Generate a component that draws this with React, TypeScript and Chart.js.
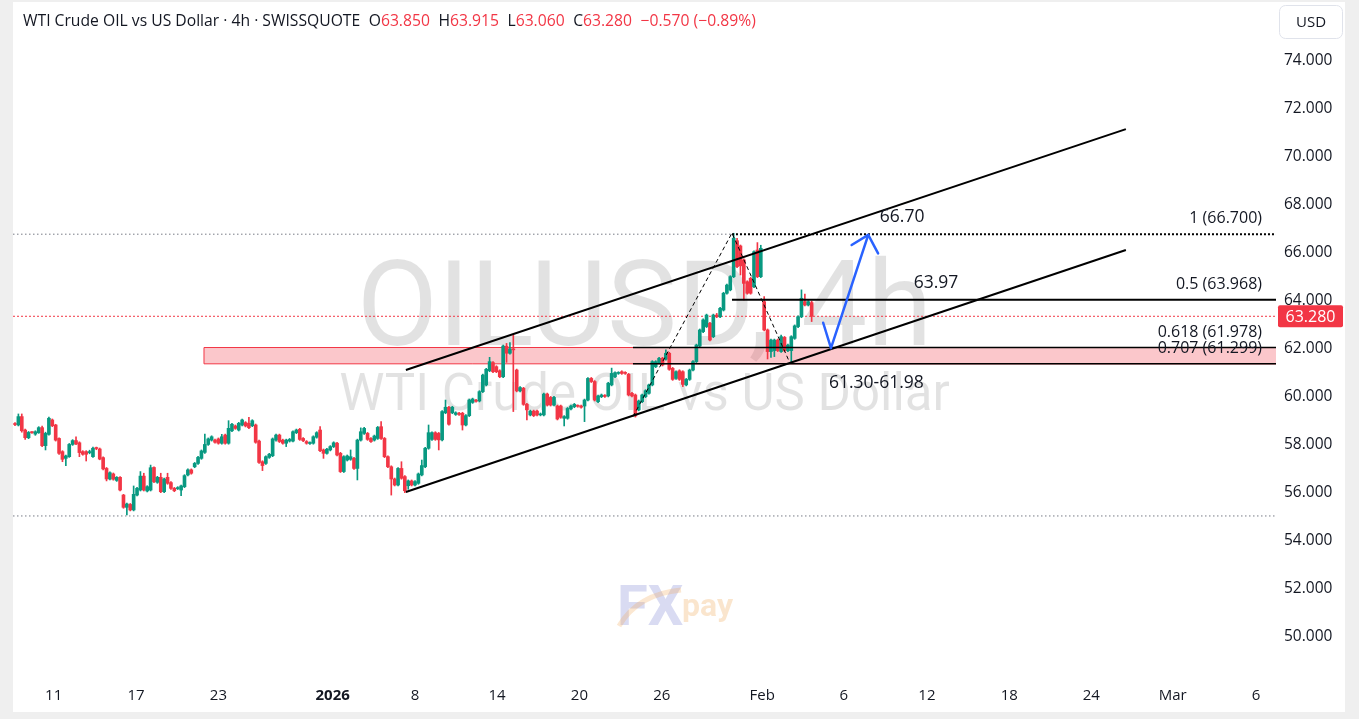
import React, { useEffect, useRef } from 'react';
import { Chart, registerables } from 'chart.js';

Chart.register(...registerables);

// ---------- data (4h candles, bar index on x) ----------
const OPEN = [
  58.79, 58.75, 59.10, 58.54, 58.22, 58.44, 58.37, 58.43, 58.64, 57.89,
  58.36, 58.96, 58.75, 58.19, 57.64, 57.36, 57.43, 57.94, 58.10, 58.01,
  57.64, 57.64, 57.60, 57.43, 57.78, 57.75, 57.39, 56.94, 56.50, 56.71,
  56.44, 56.57, 55.83, 55.32, 55.44, 55.21, 55.83, 56.04, 56.62, 56.00,
  56.04, 56.98, 56.36, 56.57, 55.97, 56.57, 56.35, 56.11, 56.10, 56.04,
  56.18, 56.67, 56.88, 57.01, 57.15, 57.36, 57.61, 57.94, 58.12, 58.12,
  58.17, 57.99, 58.33, 57.99, 58.51, 58.71, 58.54, 58.75, 58.85, 58.82,
  58.72, 58.75, 58.08, 57.22, 57.15, 57.40, 57.47, 58.12, 58.33, 58.12,
  57.99, 58.08, 58.08, 58.43, 58.57, 58.19, 58.06, 57.98, 57.99, 58.24,
  58.54, 57.71, 57.57, 57.71, 57.85, 57.99, 57.57, 56.81, 57.29, 57.32,
  57.36, 56.94, 58.12, 58.40, 58.40, 58.19, 58.12, 58.19, 58.68, 58.19,
  57.43, 57.01, 56.50, 56.25, 56.94, 56.60, 56.22, 56.42, 56.25, 56.32,
  56.67, 57.01, 57.78, 58.15, 58.43, 58.40, 58.13, 59.26, 59.49, 59.26,
  59.19, 59.24, 59.24, 58.75, 59.14, 59.69, 59.78, 59.75, 60.14, 60.42,
  61.01, 61.35, 61.18, 61.01, 60.76, 62.04, 61.74, 61.92, 61.04, 60.17,
  60.28, 59.61, 59.17, 59.33, 59.33, 59.17, 59.17, 60.04, 59.90, 59.58,
  59.54, 59.54, 59.03, 59.03, 59.42, 59.51, 59.55, 59.54, 59.54, 59.79,
  60.69, 60.56, 59.72, 59.93, 59.98, 59.96, 60.42, 60.76, 60.90, 60.97,
  60.93, 60.86, 60.07, 60.00, 59.38, 59.72, 59.93, 60.07, 60.42, 61.18,
  61.35, 61.53, 61.49, 61.74, 61.11, 60.69, 61.01, 60.97, 60.42, 60.65,
  61.04, 61.39, 62.04, 62.64, 62.85, 62.99, 62.43, 63.33, 63.26, 63.54,
  64.24, 64.38, 64.93, 66.43, 66.21, 65.63, 64.72, 64.86, 64.51, 66.04,
  64.93, 63.89, 62.71, 61.81, 61.85, 62.29, 61.81, 62.40, 61.85, 61.85,
  62.36, 62.85, 63.26, 63.89, 63.75, 63.85,
];
const HIGH = [
  58.85, 59.21, 59.21, 58.58, 58.48, 58.48, 58.51, 58.68, 58.70, 58.45,
  59.08, 59.00, 58.78, 58.22, 57.68, 57.50, 57.98, 58.14, 58.26, 58.05,
  57.68, 57.68, 57.70, 57.83, 57.83, 57.79, 57.42, 56.98, 56.80, 56.75,
  56.60, 56.60, 55.86, 55.50, 55.48, 56.21, 56.15, 56.81, 56.74, 56.22,
  57.08, 57.01, 56.61, 56.74, 56.54, 56.74, 56.39, 56.15, 56.18, 56.25,
  56.68, 56.92, 56.92, 57.19, 57.44, 57.71, 58.37, 58.21, 58.30, 58.16,
  58.21, 58.36, 58.37, 58.93, 58.82, 58.75, 58.86, 59.00, 58.89, 59.07,
  58.97, 58.79, 58.12, 57.26, 57.47, 57.57, 58.21, 58.37, 58.37, 58.16,
  58.16, 58.19, 58.51, 58.58, 58.61, 58.23, 58.10, 58.05, 58.30, 58.47,
  58.68, 57.75, 57.78, 57.89, 58.05, 58.03, 57.61, 57.47, 57.50, 57.71,
  57.40, 58.16, 58.63, 58.65, 58.44, 58.23, 58.33, 58.69, 58.89, 58.23,
  57.47, 57.05, 56.54, 56.98, 57.22, 56.64, 56.46, 56.46, 56.43, 56.75,
  57.29, 57.82, 58.75, 58.47, 58.47, 58.44, 59.35, 59.79, 59.53, 59.53,
  59.30, 59.28, 59.28, 59.18, 59.83, 59.87, 59.82, 60.18, 60.87, 61.11,
  61.57, 61.39, 61.22, 61.05, 62.08, 62.15, 62.18, 62.50, 61.08, 60.35,
  60.32, 59.65, 59.37, 59.37, 59.37, 59.25, 60.08, 60.08, 59.94, 59.94,
  59.58, 59.58, 59.14, 59.48, 59.58, 59.65, 59.59, 59.58, 59.83, 60.73,
  60.73, 60.60, 60.00, 60.04, 60.02, 60.53, 61.12, 60.97, 60.97, 61.01,
  60.97, 60.90, 60.11, 60.04, 59.79, 60.04, 60.22, 60.46, 61.43, 61.43,
  61.57, 61.57, 61.88, 61.78, 61.15, 61.01, 61.05, 61.01, 60.69, 61.08,
  61.43, 62.12, 62.75, 63.17, 63.37, 63.03, 63.37, 63.40, 63.65, 64.28,
  64.62, 64.97, 66.74, 66.53, 66.25, 65.67, 64.76, 64.90, 66.01, 66.35,
  66.24, 64.10, 62.75, 62.33, 62.33, 62.33, 62.50, 62.44, 62.12, 62.47,
  62.92, 63.30, 64.38, 64.20, 63.93, 63.915,
];
const LOW = [
  58.72, 58.71, 58.45, 58.15, 58.18, 58.40, 58.32, 58.40, 57.85, 57.71,
  58.33, 58.68, 58.08, 57.52, 57.22, 57.06, 57.40, 57.90, 57.93, 57.43,
  57.49, 57.25, 57.55, 57.40, 57.72, 57.30, 56.88, 56.42, 56.46, 56.45,
  56.40, 56.00, 55.28, 55.00, 55.17, 55.17, 55.79, 56.00, 56.00, 55.96,
  56.00, 56.35, 56.32, 55.93, 55.93, 56.28, 56.07, 55.97, 56.06, 55.81,
  56.14, 56.63, 56.70, 56.97, 57.11, 57.32, 57.57, 57.90, 58.08, 57.99,
  57.95, 57.95, 57.95, 57.95, 58.47, 58.57, 58.50, 58.71, 58.67, 58.60,
  58.68, 57.99, 57.15, 56.85, 57.11, 57.36, 57.43, 58.08, 58.02, 57.95,
  57.85, 58.04, 58.04, 58.39, 58.11, 58.06, 57.95, 57.94, 57.95, 58.20,
  57.64, 57.36, 57.53, 57.67, 57.81, 57.46, 56.77, 56.77, 57.25, 57.28,
  56.90, 56.46, 58.08, 58.36, 58.11, 58.02, 58.08, 58.15, 58.15, 57.39,
  56.97, 55.83, 56.21, 56.21, 56.49, 55.93, 56.07, 56.21, 56.21, 56.28,
  56.63, 56.97, 57.74, 58.11, 58.11, 57.71, 58.09, 59.22, 58.74, 59.22,
  59.15, 59.15, 58.54, 58.71, 59.10, 59.65, 59.70, 59.71, 60.10, 60.38,
  60.97, 60.93, 60.93, 60.72, 60.72, 61.36, 61.70, 59.31, 60.13, 60.13,
  59.57, 58.96, 59.13, 59.10, 59.13, 59.13, 59.13, 59.54, 59.54, 59.54,
  58.96, 59.03, 58.71, 58.99, 59.38, 59.47, 59.49, 59.45, 58.89, 59.75,
  60.52, 59.75, 59.68, 59.89, 59.90, 59.92, 60.38, 60.72, 60.86, 60.86,
  60.86, 59.96, 59.92, 59.08, 59.34, 59.68, 59.89, 60.03, 60.38, 61.14,
  61.31, 61.21, 61.45, 61.03, 60.61, 60.65, 60.61, 60.35, 60.38, 60.61,
  61.00, 61.35, 62.00, 62.60, 62.81, 62.25, 62.39, 63.22, 63.22, 63.50,
  64.20, 64.34, 64.89, 65.31, 65.00, 63.96, 64.20, 64.20, 64.47, 64.89,
  64.89, 62.67, 61.50, 61.57, 61.60, 61.81, 61.77, 61.81, 61.81, 61.32,
  62.32, 62.81, 63.22, 63.71, 63.71, 63.06,
];
const CLOSE = [
  58.77, 59.10, 58.51, 58.22, 58.44, 58.43, 58.47, 58.64, 57.89, 58.40,
  59.03, 58.72, 58.12, 57.57, 57.32, 57.46, 57.94, 58.10, 57.96, 57.60,
  57.53, 57.53, 57.63, 57.78, 57.77, 57.33, 56.92, 56.50, 56.76, 56.49,
  56.57, 56.04, 55.32, 55.46, 55.21, 55.86, 56.11, 56.62, 56.04, 56.18,
  56.97, 56.39, 56.57, 55.97, 56.50, 56.32, 56.11, 56.01, 56.14, 56.21,
  56.64, 56.88, 56.74, 57.15, 57.40, 57.67, 57.94, 58.17, 58.26, 58.03,
  57.99, 58.26, 57.99, 58.61, 58.78, 58.61, 58.82, 58.96, 58.71, 58.64,
  58.93, 58.03, 57.19, 57.06, 57.43, 57.53, 58.17, 58.33, 58.06, 57.99,
  58.12, 58.15, 58.47, 58.54, 58.15, 58.10, 57.99, 58.01, 58.26, 58.43,
  57.68, 57.57, 57.74, 57.85, 58.01, 57.50, 56.81, 57.43, 57.46, 57.43,
  56.94, 58.12, 58.47, 58.61, 58.15, 58.06, 58.29, 58.65, 58.19, 57.43,
  57.01, 56.50, 56.25, 56.94, 56.53, 56.01, 56.42, 56.25, 56.39, 56.71,
  57.06, 57.78, 58.43, 58.43, 58.15, 58.13, 59.31, 59.49, 58.78, 59.49,
  59.26, 59.19, 58.75, 59.14, 59.79, 59.83, 59.74, 60.14, 60.83, 61.07,
  61.39, 60.97, 60.97, 60.76, 62.04, 61.74, 61.92, 61.88, 60.17, 60.31,
  59.61, 59.38, 59.33, 59.14, 59.17, 59.21, 60.04, 59.58, 59.58, 59.90,
  59.00, 59.07, 59.10, 59.44, 59.54, 59.61, 59.53, 59.49, 59.79, 60.69,
  60.56, 59.79, 59.96, 60.00, 59.94, 60.49, 60.90, 60.93, 60.93, 60.90,
  60.90, 60.00, 59.96, 59.13, 59.75, 60.00, 60.18, 60.42, 61.39, 61.39,
  61.53, 61.25, 61.74, 61.07, 60.65, 60.97, 60.65, 60.44, 60.65, 61.04,
  61.39, 62.08, 62.71, 63.13, 63.33, 62.29, 63.33, 63.26, 63.61, 64.24,
  64.58, 64.93, 66.53, 65.35, 65.38, 64.65, 64.24, 64.24, 65.97, 64.93,
  66.11, 62.71, 61.81, 62.29, 62.29, 61.85, 62.43, 61.85, 62.08, 62.43,
  62.88, 63.26, 64.03, 63.75, 63.89, 63.28,
];

// time axis (bar index positions of the date labels)
const TIME_TICK_POS = [11.4, 35.7, 60.0, 93.7, 118.0, 142.2, 166.5, 190.8, 220.4, 244.5, 269.0, 293.3, 317.5, 341.5, 366.1];
const TIME_TICK_LABELS = ['11', '17', '23', '2026', '8', '14', '20', '26', 'Feb', '6', '12', '18', '24', 'Mar', '6'];
const PRICE_TICKS = [50, 52, 54, 56, 58, 60, 62, 64, 66, 68, 70, 72, 74];

const X_MIN = -0.59;
const X_MAX = 371.98;
const Y_MIN = 47.958;
const Y_MAX = 76.375;

const LAST_PRICE = 63.28;
const RANGE_LOW_PRICE = 54.96;

// fibonacci retracement
const FIB_LEVELS = [66.7, 63.968, 61.978, 61.299];
const FIB_LABELS = ['1 (66.700)', '0.5 (63.968)', '0.618 (61.978)', '0.707 (61.299)'];
const FIB_START = [211.5, 211.5, 182.3, 182.3];
const FIB_PATH_X = [182.3, 211.5, 228.6];
const FIB_PATH_Y = [59.1, 66.75, 61.33];

// support zone 61.30-61.98
const ZONE_X = [55.75, 374];
const ZONE_Y = [61.299, 61.978];

// rising channel
const CHANNEL_X = [115.3, 327.7];
const CHANNEL_UPPER = [61.04, 71.08];
const CHANNEL_LOWER = [55.96, 66.04];

// projected path (blue arrow)
const ARROW_X = [238.4, 240.7, 251.7];
const ARROW_Y = [63.01, 61.95, 66.67];
const ARROW_HEAD_X = [246.8, 251.7, 254.6];
const ARROW_HEAD_Y = [66.25, 66.67, 65.9];

// text notes
const NOTE_TEXT = ['66.70', '63.97', '61.30-61.98'];
const NOTE_X = [261.7, 271.7, 254.1];
const NOTE_Y = [67.21, 64.45, 60.28];

// ---------- styles ----------
const UP = '#089981';
const DOWN = '#f23645';
const INK = '#131722';
const FONT = '"Open Sans", sans-serif';
const WM_FONT = 'Roboto, sans-serif';

const pts = (xs: number[], ys: number[]) => xs.map((x, i) => ({ x, y: ys[i] }));

const lineDs = (label: string, data: any[], extra: any = {}) => ({
  type: 'line',
  label,
  data,
  pointRadius: 0,
  pointHoverRadius: 0,
  fill: false,
  tension: 0,
  borderWidth: 1,
  borderColor: '#000',
  ...extra,
});

const overlayPlugin = {
  id: 'overlay',
  beforeDatasetsDraw(chart: any) {
    const { ctx, chartArea: a } = chart;
    ctx.save();
    const cx = (a.left + a.right) / 2;
    ctx.textAlign = 'center';
    ctx.textBaseline = 'alphabetic';
    ctx.fillStyle = 'rgba(0,0,0,0.115)';
    ctx.font = `118px ${WM_FONT}`;
    ctx.fillText('OILUSD, 4h', cx, 343);
    ctx.font = `51px ${WM_FONT}`;
    ctx.fillText('WTI Crude OIL vs US Dollar', cx, 408);

    // FXpay logo
    ctx.textAlign = 'left';
    ctx.font = `bold 56px ${WM_FONT}`;
    ctx.fillStyle = 'rgba(150,155,220,0.36)';
    ctx.fillText('FX', 604, 623);
    ctx.strokeStyle = 'rgba(240,170,90,0.28)';
    ctx.lineWidth = 5;
    ctx.beginPath();
    ctx.moveTo(606, 624);
    ctx.quadraticCurveTo(625, 592, 668, 588);
    ctx.stroke();
    ctx.font = `bold 32px ${WM_FONT}`;
    ctx.fillStyle = 'rgba(240,170,90,0.3)';
    ctx.fillText('pay', 669, 614);
    ctx.restore();
  },
  afterDatasetsDraw(chart: any) {
    const { ctx, chartArea: a, scales } = chart;
    const xs = scales.x;
    const ys = scales.y;
    ctx.save();
    ctx.fillStyle = INK;
    ctx.textBaseline = 'alphabetic';
    // fib labels
    ctx.font = `16px ${FONT}`;
    ctx.textAlign = 'right';
    FIB_LEVELS.forEach((lv, i) => {
      ctx.fillText(FIB_LABELS[i], a.right - 14, ys.getPixelForValue(lv) - 11);
    });
    // notes
    ctx.font = `17.5px ${FONT}`;
    ctx.textAlign = 'center';
    NOTE_TEXT.forEach((t, i) => {
      ctx.fillText(t, xs.getPixelForValue(NOTE_X[i]), ys.getPixelForValue(NOTE_Y[i]));
    });
    ctx.restore();
  },
  afterDraw(chart: any) {
    const { ctx, chartArea: a, scales } = chart;
    const ys = scales.y;
    ctx.save();
    // last price label
    const py = ys.getPixelForValue(LAST_PRICE);
    ctx.fillStyle = DOWN;
    ctx.beginPath();
    ctx.roundRect(a.right + 2, py - 11, 65, 22, 2);
    ctx.fill();
    ctx.fillStyle = '#ffffff';
    ctx.font = `16px ${FONT}`;
    ctx.textAlign = 'center';
    ctx.textBaseline = 'middle';
    ctx.fillText(LAST_PRICE.toFixed(3), a.right + 34.5, py + 1);
    // currency button
    ctx.fillStyle = '#ffffff';
    ctx.strokeStyle = '#e0e3eb';
    ctx.lineWidth = 1;
    ctx.beginPath();
    ctx.roundRect(a.right + 3.5, 3.5, 63, 33, 6);
    ctx.fill();
    ctx.stroke();
    ctx.fillStyle = INK;
    ctx.font = `15px ${FONT}`;
    ctx.fillText('USD', a.right + 35, 20.5);
    ctx.restore();
  },
};

export default function App() {
  const ref = useRef<HTMLCanvasElement>(null);

  useEffect(() => {
    const colors = CLOSE.map((c, i) => (c >= OPEN[i] ? UP : DOWN));
    const bodies = OPEN.map((o, i) => ({ x: i, y: [Math.min(o, CLOSE[i]), Math.max(o, CLOSE[i])] }));
    const wicks = OPEN.map((_, i) => ({ x: i, y: [LOW[i], HIGH[i]] }));

    const datasets: any[] = [
      // arrow
      lineDs('arrow', pts(ARROW_X, ARROW_Y), { borderColor: '#2962ff', borderWidth: 2.5, borderJoinStyle: 'round', borderCapStyle: 'round', order: 1 }),
      lineDs('arrowHead', pts(ARROW_HEAD_X, ARROW_HEAD_Y), { borderColor: '#2962ff', borderWidth: 2.5, borderJoinStyle: 'round', borderCapStyle: 'round', order: 1 }),
      // channel
      lineDs('upper', pts(CHANNEL_X, CHANNEL_UPPER), { borderWidth: 2, order: 2 }),
      lineDs('lower', pts(CHANNEL_X, CHANNEL_LOWER), { borderWidth: 2, order: 2 }),
      // fib swing path
      lineDs('fibPath', pts(FIB_PATH_X, FIB_PATH_Y), { borderDash: [4, 3], order: 3 }),
      // fib levels
      lineDs('fib1', pts([FIB_START[0], X_MAX], [FIB_LEVELS[0], FIB_LEVELS[0]]), { borderWidth: 2, borderDash: [2, 2], order: 4 }),
      lineDs('fib05', pts([FIB_START[1], X_MAX], [FIB_LEVELS[1], FIB_LEVELS[1]]), { borderWidth: 2, order: 4 }),
      lineDs('fib618', pts([FIB_START[2], X_MAX], [FIB_LEVELS[2], FIB_LEVELS[2]]), { borderWidth: 1.5, order: 4 }),
      lineDs('fib707', pts([FIB_START[3], X_MAX], [FIB_LEVELS[3], FIB_LEVELS[3]]), { borderWidth: 1.5, order: 4 }),
      // candles
      {
        type: 'bar', label: 'body', data: bodies, backgroundColor: colors, borderWidth: 0,
        barThickness: 3, grouped: false, minBarLength: 1, order: 10,
      },
      {
        type: 'bar', label: 'wick', data: wicks, backgroundColor: colors, borderWidth: 0,
        barThickness: 1, grouped: false, minBarLength: 1, order: 11,
      },
      // price lines
      lineDs('last', pts([X_MIN, X_MAX], [LAST_PRICE, LAST_PRICE]), { borderColor: DOWN, borderDash: [2, 2], order: 20 }),
      lineDs('highExt', pts([X_MIN, FIB_START[0]], [FIB_LEVELS[0], FIB_LEVELS[0]]), { borderColor: '#787b86', borderDash: [1.5, 2.5], order: 20 }),
      lineDs('lowExt', pts([X_MIN, X_MAX], [RANGE_LOW_PRICE, RANGE_LOW_PRICE]), { borderColor: '#787b86', borderDash: [1.5, 2.5], order: 20 }),
      // zone
      lineDs('zone', pts(
        [ZONE_X[0], ZONE_X[1], ZONE_X[1], ZONE_X[0], ZONE_X[0]],
        [ZONE_Y[1], ZONE_Y[1], ZONE_Y[0], ZONE_Y[0], ZONE_Y[1]],
      ), { fill: 'shape', backgroundColor: 'rgba(242,54,69,0.28)', borderColor: '#f23645', borderWidth: 1, order: 30 }),
    ];

    const chart = new Chart(ref.current as HTMLCanvasElement, {
      type: 'bar',
      data: { datasets },
      options: {
        animation: false,
        responsive: false,
        maintainAspectRatio: false,
        devicePixelRatio: 1,
        events: [],
        layout: { padding: 0, autoPadding: false },
        plugins: { legend: { display: false }, tooltip: { enabled: false } },
        scales: {
          x: {
            type: 'linear',
            min: X_MIN,
            max: X_MAX,
            offset: false,
            grid: { display: false, drawTicks: false },
            border: { display: false },
            afterBuildTicks: (s: any) => { s.ticks = TIME_TICK_POS.map((v) => ({ value: v })); },
            afterFit: (s: any) => { s.height = 28; s.paddingLeft = 0; s.paddingRight = 0; },
            ticks: {
              autoSkip: false,
              maxRotation: 0,
              minRotation: 0,
              padding: 3,
              color: INK,
              font: (c: any) => ({ family: FONT, size: 15, weight: TIME_TICK_LABELS[c.index] === '2026' ? 'bold' : 'normal' }),
              callback: (_v: any, i: number) => TIME_TICK_LABELS[i],
            },
          },
          y: {
            type: 'linear',
            position: 'right',
            min: Y_MIN,
            max: Y_MAX,
            grid: { display: false, drawTicks: false },
            border: { display: false },
            afterBuildTicks: (s: any) => { s.ticks = PRICE_TICKS.map((v) => ({ value: v })); },
            afterFit: (s: any) => { s.width = 69; s.paddingTop = 0; s.paddingBottom = 0; },
            ticks: {
              padding: 8,
              labelOffset: 1.5,
              color: INK,
              font: { family: FONT, size: 15.5 },
              callback: (v: any) => Number(v).toFixed(3),
            },
          },
        },
      },
      plugins: [overlayPlugin],
    } as any);
    return () => chart.destroy();
  }, []);

  const red = { color: DOWN };
  const gap = { marginLeft: 8.5 };
  return (
    <div style={{ position: 'fixed', left: 0, top: 0, width: 1359, height: 719, background: '#efefef', overflow: 'hidden' }}>
      <div style={{ position: 'absolute', left: 13, top: 2, width: 1332, height: 710, background: '#ffffff' }}>
        <canvas ref={ref} width={1332} height={710} style={{ display: 'block' }} />
      </div>
      <div style={{ position: 'absolute', left: 23, top: 10, font: `15.7px ${FONT}`, lineHeight: '20px', color: INK, whiteSpace: 'pre' }}>
        <span>WTI Crude OIL vs US Dollar · 4h · SWISSQUOTE</span>
        <span style={gap}>O</span><span style={red}>63.850</span>
        <span style={gap}>H</span><span style={red}>63.915</span>
        <span style={gap}>L</span><span style={red}>63.060</span>
        <span style={gap}>C</span><span style={red}>63.280</span>
        <span style={{ ...red, ...gap }}>−0.570 (−0.89%)</span>
      </div>
    </div>
  );
}
